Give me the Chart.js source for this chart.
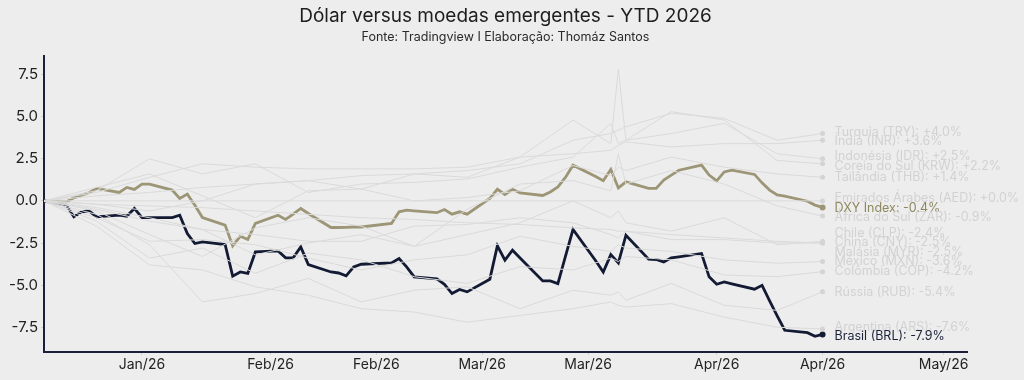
<!DOCTYPE html>
<html><head><meta charset="utf-8">
<script src="https://cdn.jsdelivr.net/npm/chart.js@4.4.1/dist/chart.umd.min.js"></script>
<style>html,body{margin:0;padding:0;background:#ededed;}#wrap{width:1024px;height:380px;}</style>
</head><body><div id="wrap"><canvas id="c" width="1024" height="380"></canvas></div>
<script>
// Day-of-year (Jan 1 2026 = 0) of each observation
const dates = [1, 4,5,6,7,8, 11,12,13,14,15, 18,19,20,21,22, 25,26,27,28,29, 32,33,34,35,36, 39,40,41,42,43, 47,48,49,50, 53,54,55,56,57, 60,61,62,63,64, 67,68,69,70,71, 74,75,76,77,78, 81,82,83,84,85, 88,89,90,91,92, 95,96,97,98,99, 102,103,104];
const brlValues = [0, -0.25,-0.95,-0.65,-0.59,-0.95, -0.85,-0.91,-0.45,-0.99,-0.99, -0.99,-0.85,-1.94,-2.53,-2.43, -2.59,-4.47,-4.22,-4.31,-3.03, -2.97,-3.38,-3.38,-2.73,-3.78, -4.22,-4.28,-4.45,-3.92,-3.76, -3.68,-3.42,-3.92,-4.51, -4.63,-4.95,-5.50,-5.26,-5.40, -4.65,-2.67,-3.52,-2.93,-3.39, -4.75,-4.75,-4.91,-3.30,-1.70, -3.55,-4.22,-3.19,-3.68,-2.04, -3.46,-3.48,-3.62,-3.38,-3.32, -3.12,-4.51,-4.95,-4.81,-4.92, -5.24,-5.01,-5.94,-6.83,-7.68, -7.82,-8.04,-7.93];
const dxyValues = [0, -0.06,0.18,0.34,0.48,0.74, 0.50,0.80,0.68,0.99,0.99, 0.64,0.14,0.40,-0.26,-0.99, -1.44,-2.67,-2.10,-2.29,-1.34, -0.85,-1.10,-0.79,-0.45,-0.75, -1.58,-1.58,-1.57,-1.55,-1.55, -1.34,-0.65,-0.55,-0.59, -0.70,-0.51,-0.79,-0.65,-0.79, 0.14,0.69,0.38,0.69,0.48, 0.32,0.53,0.83,1.39,2.12, 1.45,1.20,1.86,0.77,1.13, 0.74,0.74,1.23,1.53,1.82, 2.12,1.53,1.19,1.72,1.82, 1.57,1.07,0.64,0.36,0.28, -0.02,-0.25,-0.39];

// Other emerging currencies (coarser reading)
const grayDates = [1, 8, 15, 22, 29, 36, 43, 50, 57, 64, 71, 76, 77, 78, 84, 91, 98, 104];
const tryValues = [0, 0.3, 0.5, 0.8, 1.0, 1.2, 1.5, 1.6, 1.8, 2.2, 3.6, 4.0, 4.2, 4.4, 5.2, 4.9, 3.6, 4.0];
const inrValues = [0, 0.5, 1.4, 2.2, 2.0, 1.9, 1.9, 1.9, 2.0, 2.6, 2.8, 3.0, 3.3, 3.5, 3.2, 3.4, 3.4, 3.6];
const idrValues = [0, 0.6, 2.5, 1.6, 2.2, 0.5, 1.0, 1.1, 1.3, 2.0, 2.6, 4.6, 3.4, 3.6, 4.0, 4.6, 2.8, 2.5];
const krwValues = [0, 0.8, 1.6, 0.3, -1.0, 0.6, 0.7, 1.6, 1.4, 2.6, 4.8, 3.4, 7.8, 3.6, 5.3, 4.8, 2.4, 2.2];
const thbValues = [0, -0.2, -0.6, 0.0, 1.0, 1.2, 0.7, 0.0, 0.2, 0.6, 2.1, 1.5, 2.0, 1.8, 2.6, 2.0, 1.6, 1.4];
const aedValues = [0, 0, 0, 0, 0, 0, 0, 0, 0, 0, 0, 0, 0, 0, 0, 0, 0, 0];
const zarValues = [0, -0.5, -1.2, -1.7, -3.2, -2.5, -2.0, -2.7, -0.5, 1.0, 1.2, 0.6, 2.8, 1.0, 1.8, 1.0, -0.3, -0.9];
const clpValues = [0, -0.6, -2.0, -3.3, -1.6, -1.0, -1.5, -2.7, -2.0, -1.3, 0.0, -1.0, -0.6, -1.3, -1.8, -1.0, -2.6, -2.4];
const cnyValues = [0, -0.2, -0.3, -0.4, -0.6, -0.8, -1.0, -1.1, -1.3, -1.4, -1.6, -1.7, -1.8, -1.8, -2.0, -2.2, -2.4, -2.5];
const myrValues = [0, -0.4, -1.0, -1.7, -2.0, -2.4, -2.4, -1.5, -1.4, -1.0, -1.3, -2.0, -2.2, -1.8, -2.3, -2.3, -2.5, -2.5];
const mxnValues = [0, -1.0, -2.4, -2.3, -2.6, -3.4, -4.1, -3.5, -3.2, -2.1, -2.7, -3.0, -2.6, -2.8, -3.0, -3.5, -3.7, -3.6];
const copValues = [0, -1.2, -3.4, -2.8, -4.3, -3.1, -3.5, -4.5, -4.9, -3.9, -4.1, -3.4, -3.6, -3.3, -3.5, -4.4, -4.5, -4.2];
const rubValues = [0, -0.8, -2.6, -6.0, -5.5, -4.6, -6.0, -5.3, -5.1, -6.4, -5.3, -5.6, -5.4, -5.9, -4.9, -6.2, -6.5, -5.4];
const arsValues = [0, -1.5, -3.8, -4.1, -5.1, -5.6, -6.4, -6.6, -7.2, -6.8, -6.4, -6.0, -6.2, -6.3, -6.1, -6.9, -7.5, -7.6];

const grayNames = ['Turquia (TRY)','Índia (INR)','Indonésia (IDR)','Coreia do Sul (KRW)','Tailândia (THB)','Emirados Árabes (AED)','África do Sul (ZAR)','Chile (CLP)','China (CNY)','Malásia (MYR)','México (MXN)','Colômbia (COP)','Rússia (RUB)','Argentina (ARS)'];
const grayValues = [tryValues, inrValues, idrValues, krwValues, thbValues, aedValues, zarValues, clpValues, cnyValues, myrValues, mxnValues, copValues, rubValues, arsValues];

const tickDays = [14, 31, 45, 59, 73, 90, 104, 120];
const tickLabels = ['Jan/26', 'Feb/26', 'Feb/26', 'Mar/26', 'Mar/26', 'Apr/26', 'Apr/26', 'May/26'];
const yTickValues = [-7.5, -5, -2.5, 0, 2.5, 5, 7.5];

const titleText = 'Dólar versus moedas emergentes - YTD 2026';
const subtitleText = 'Fonte: Tradingview I Elaboração: Thomáz Santos';

const FONT = 'Inter, "Open Sans", sans-serif';
const GRAY_LINE = '#dadada', GRAY_TEXT = '#d2d2d2';
const DXY_COLOR = '#9c9676', BRL_COLOR = '#131a33';

function pts(xs, ys){ return xs.map((x,i)=>({x, y: ys[i]})); }
function lastDot(r){ return ctx => ctx.dataIndex === ctx.dataset.data.length - 1 ? r : 0; }

const datasets = [];
grayNames.forEach((n,i)=>{
  datasets.push({label:n, data:pts(grayDates, grayValues[i]), borderColor:GRAY_LINE, backgroundColor:'#d4d4d4',
    borderWidth:1, pointRadius:lastDot(2.5), pointBorderWidth:0, tension:0, labelColor:GRAY_TEXT});
});
datasets.push({label:'DXY Index', data:pts(dates, dxyValues), borderColor:DXY_COLOR, backgroundColor:DXY_COLOR,
  borderWidth:2.8, pointRadius:lastDot(3), pointBorderWidth:0, tension:0, labelColor:'#8e885f'});
datasets.push({label:'Brasil (BRL)', data:pts(dates, brlValues), borderColor:BRL_COLOR, backgroundColor:BRL_COLOR,
  borderWidth:2.8, pointRadius:lastDot(3), pointBorderWidth:0, tension:0, labelColor:'#1c2238'});

const endLabels = {
  id:'endLabels',
  afterDatasetsDraw(chart){
    const ctx = chart.ctx, gap = 9.5;
    const items = [];
    chart.data.datasets.forEach((ds,i)=>{
      const meta = chart.getDatasetMeta(i);
      const p = meta.data[meta.data.length-1];
      const v = ds.data[ds.data.length-1].y;
      const txt = ds.label + ': ' + (v >= 0 ? '+' : '') + v.toFixed(1) + '%';
      items.push({x:p.x, y:p.y, v, txt, color:ds.labelColor, order:i});
    });
    items.sort((a,b)=> b.v - a.v || a.order - b.order);
    let groups = items.map(it=>({items:[it], center:it.y}));
    let changed = true;
    while(changed){
      changed = false;
      for(let i=0;i<groups.length-1;i++){
        const a=groups[i], b=groups[i+1];
        const aB = a.center + (a.items.length-1)*gap/2;
        const bT = b.center - (b.items.length-1)*gap/2;
        if(bT - aB < gap){
          const its = a.items.concat(b.items);
          groups.splice(i,2,{items:its, center: its.reduce((s,t)=>s+t.y,0)/its.length});
          changed = true; break;
        }
      }
    }
    ctx.save();
    ctx.font = '12.5px ' + FONT;
    ctx.textBaseline = 'middle';
    ctx.textAlign = 'left';
    groups.forEach(g=>{
      g.items.forEach((it,k)=>{
        const y = g.center - (g.items.length-1)*gap/2 + k*gap;
        ctx.fillStyle = it.color;
        ctx.fillText(it.txt, it.x + 12, y);
      });
    });
    ctx.restore();
  },
  afterDraw(chart){
    const ctx = chart.ctx, a = chart.chartArea;
    const cx = (a.left + a.right)/2;
    ctx.save();
    ctx.textAlign = 'center'; ctx.textBaseline = 'middle';
    ctx.fillStyle = '#1e1e1e';
    ctx.font = '19px ' + FONT;
    ctx.fillText(titleText, cx, 16);
    ctx.fillStyle = '#2a2a2a';
    ctx.font = '12.5px ' + FONT;
    ctx.fillText(subtitleText, cx, 37);
    ctx.restore();
  }
};

new Chart(document.getElementById('c'), {
  type:'line',
  data:{datasets},
  options:{
    responsive:false, animation:false, devicePixelRatio:1,
    layout:{padding:{left:0, right:57, top:56, bottom:0}},
    plugins:{legend:{display:false}, title:{display:false}, tooltip:{enabled:false}},
    scales:{
      x:{type:'linear', min:1.05, max:123.1,
        afterBuildTicks:s=>{ s.ticks = tickDays.map(v=>({value:v})); },
        afterFit:s=>{ s.height = 28; },
        ticks:{callback:(v,i)=>tickLabels[i], font:{size:14, family:FONT}, color:'#222', padding:1, maxRotation:0, autoSkip:false},
        grid:{display:true, drawOnChartArea:false, tickLength:3, color:'#cfcfcf'},
        border:{display:true, color:'#1b1f3a', width:2}},
      y:{min:-8.97, max:8.6,
        afterBuildTicks:s=>{ s.ticks = yTickValues.map(v=>({value:v})); },
        afterFit:s=>{ s.width = 44; },
        ticks:{callback:v=>v.toFixed(1), font:{size:15, family:FONT}, color:'#222', padding:3},
        grid:{display:true, drawOnChartArea:false, tickLength:3, color:'#cfcfcf'},
        border:{display:true, color:'#1b1f3a', width:2}}
    }
  },
  plugins:[endLabels]
});
</script></body></html>
